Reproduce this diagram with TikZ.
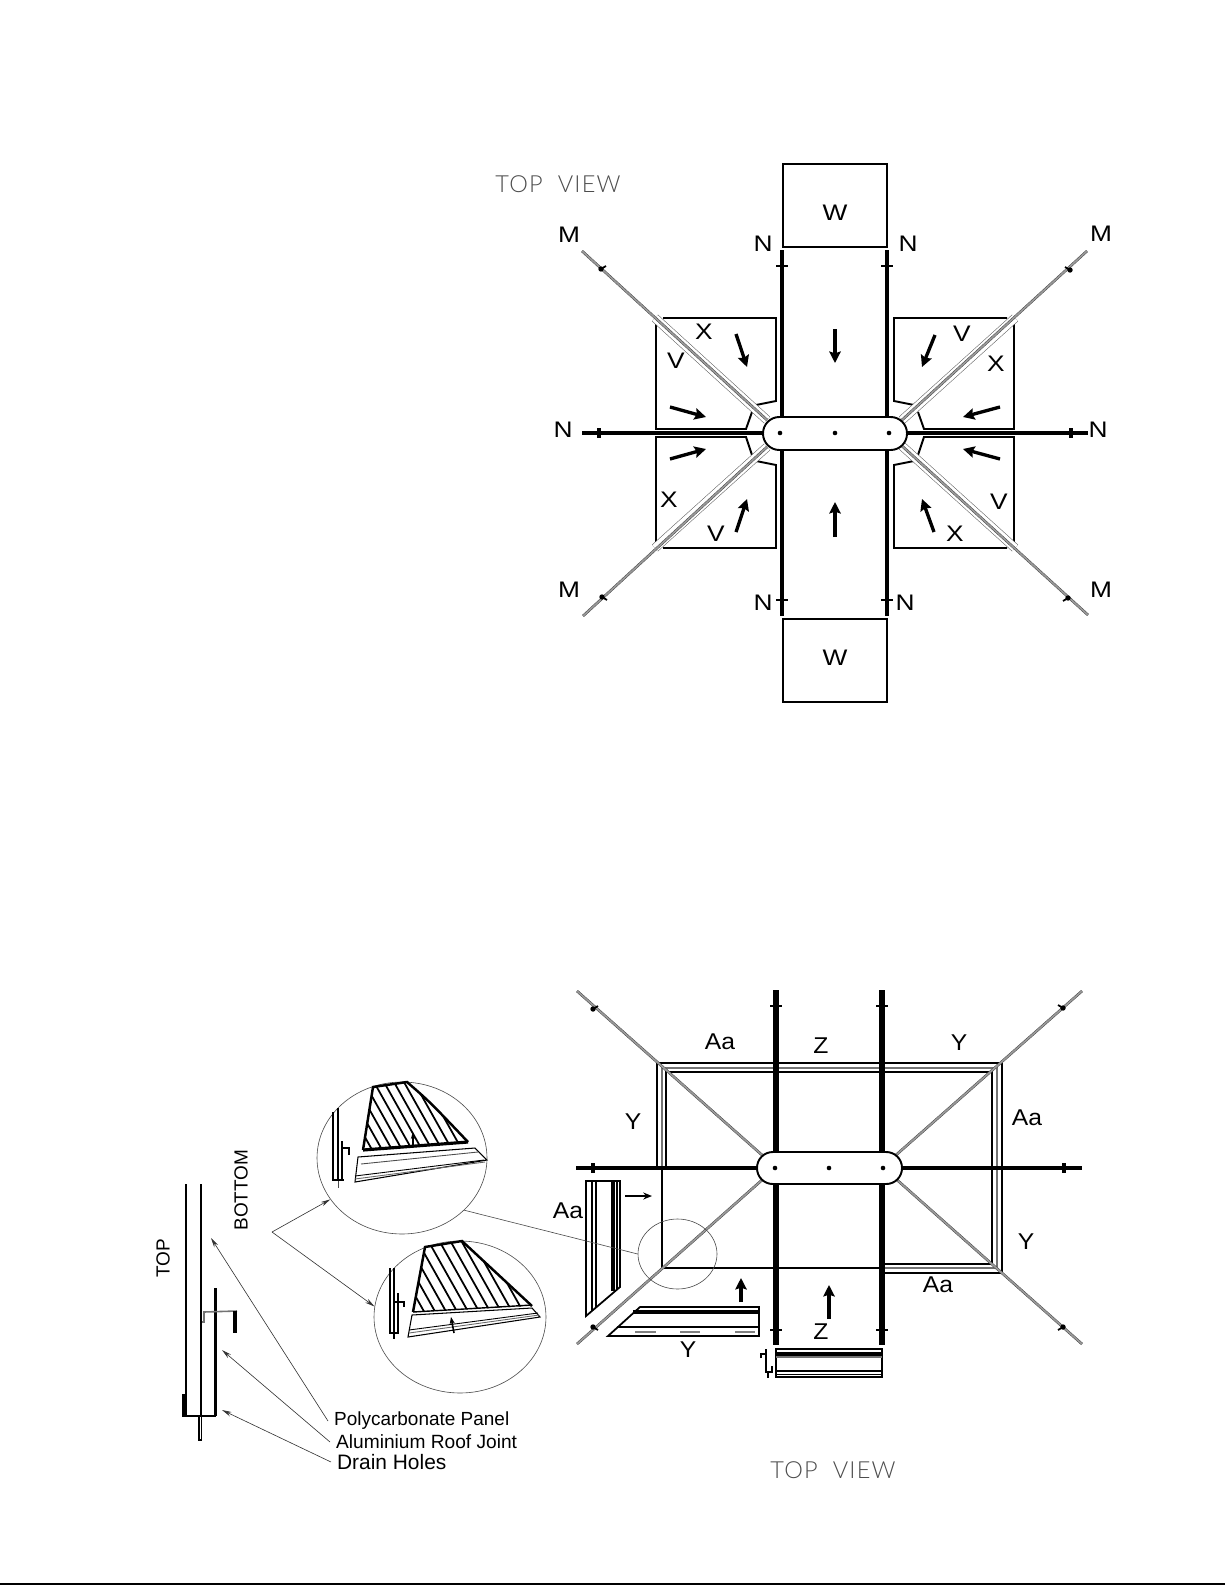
\documentclass[tikz,border=0pt]{standalone}
\usepackage{fontspec}
\setmainfont{Liberation Sans}
\newfontfamily\viewfont[LetterSpace=5]{Lato Light}
\usetikzlibrary{arrows.meta,shapes.geometric}
\tikzset{
  lbl/.style={font=\fontsize{12.8}{13}\selectfont,inner sep=0pt,xscale=1.17},
  biglbl/.style={font=\fontsize{13}{13}\selectfont,inner sep=0pt,xscale=1.08},
  viewlbl/.style={font=\viewfont\fontsize{13.4}{14}\selectfont,text=black!70,inner sep=0pt},
  sidelbl/.style={font=\fontsize{10.8}{11}\selectfont,inner sep=0pt,rotate=90},
  notelbl/.style={inner sep=3.3pt,anchor=west},
  shaft/.style={line width=2.8pt},
  crossbar/.style={line width=2.3pt},
  edgeline/.style={line width=1.1pt},
  frameline/.style={line width=1pt},
  greyline/.style={line width=.9pt,draw=black!55},
  hairline/.style={line width=.35pt,draw=black!70},
  mline/.style={draw=black!75,line width=.25pt,double=black!40,double distance=1pt},
  railline/.style={draw=black!65,line width=.3pt,double=white,double distance=4.5pt},
  flow/.style={line width=1.9pt,-{Stealth[length=6.5pt,width=6.5pt,inset=1pt]}},
  smallflow/.style={line width=1pt,-{Stealth[length=5pt,width=4pt]}},
  leader/.style={line width=.35pt,draw=black!80,-{Stealth[length=5.5pt,width=2.6pt]}},
  lensline/.style={draw,ellipse,line width=.35pt,draw=black!70,inner sep=0pt},
  hatchline/.style={line width=1pt},
  rimline/.style={line width=1.4pt}
}
\begin{document}
\begin{tikzpicture}[x=0.02cm,y=-0.02cm]
  \useasboundingbox (0,0) rectangle (1225,1585);
  \draw[line width=1.2pt] (0,1584) -- (1225,1584);

  \node[viewlbl] (upview) at (558,184) {TOP \ VIEW};
  \draw[edgeline] (783,164) rectangle (887,247);
  \node[lbl] (wup) at (835,213) {W};
  \draw[edgeline] (783,619) rectangle (887,702);
  \node[lbl] (wdown) at (835,658) {W};

  \draw[edgeline] (663,318)--(776,318)--(776,401)--(756,405);
  \draw[edgeline] (656,323)--(656,429)--(746,429)--(752,412);
  \draw[edgeline] (663,548)--(776,548)--(776,465)--(756,461);
  \draw[edgeline] (656,542)--(656,437)--(746,437)--(752,455);
  \draw[edgeline] (1007,318)--(894,318)--(894,401)--(914,405);
  \draw[edgeline] (1014,323)--(1014,429)--(924,429)--(918,412);
  \draw[edgeline] (1007,548)--(894,548)--(894,465)--(914,461);
  \draw[edgeline] (1014,542)--(1014,437)--(924,437)--(918,455);

  \draw[railline] (655,318)--(767,420);
  \draw[railline] (655,548)--(767,447);
  \draw[railline] (1015,318)--(902,420);
  \draw[railline] (1015,548)--(902,446);
  \draw[mline] (582,251)--(767,420);
  \draw[mline] (583,616)--(767,447);
  \draw[mline] (1087,251)--(902,420);
  \draw[mline] (1088,615)--(902,446);
  \fill (601,269) circle (2.7);
  \fill (602,597) circle (2.7);
  \fill (1070,270) circle (2.7);
  \fill (1068,598) circle (2.7);
  \draw[line width=1pt] (601,269)--(606,266);
  \draw[line width=1pt] (602,597)--(607,600);
  \draw[line width=1pt] (1070,270)--(1065,267);
  \draw[line width=1pt] (1068,598)--(1063,601);

  \draw[shaft] (782,250)--(782,420);
  \draw[shaft] (887,250)--(887,420);
  \draw[shaft] (782,447)--(782,616);
  \draw[shaft] (887,447)--(887,616);
  \draw[crossbar] (582,433)--(765,433);
  \draw[crossbar] (905,433)--(1088,433);
  \draw[line width=1.4pt] (776,266)--(788,266);
  \draw[line width=1.4pt] (881,266)--(893,266);
  \draw[line width=1.4pt] (776,600)--(788,600);
  \draw[line width=1.4pt] (881,600)--(893,600);
  \draw[line width=2.6pt] (599,428)--(599,438);
  \draw[line width=2.6pt] (1071,428)--(1071,438);

  \draw[edgeline,fill=white,rounded corners=9.3pt] (763,417) rectangle (907,450);
  \fill (780,433) circle (2.3);
  \fill (835,433) circle (2.3);
  \fill (889,433) circle (2.3);

  \draw[flow] (835,329)--(835,363);
  \draw[flow] (835,537)--(835,502);
  \draw[flow] (736,334)--(747,367);
  \draw[flow] (670,407)--(706,417);
  \draw[flow] (670,459)--(706,449);
  \draw[flow] (736,532)--(747,499);
  \draw[flow] (935,335)--(922,367);
  \draw[flow] (1000,407)--(963,417);
  \draw[flow] (1000,459)--(963,449);
  \draw[flow] (934,532)--(922,499);

  \node[lbl] (nup1) at (763,244) {N};
  \node[lbl] (nup2) at (908,244) {N};
  \node[lbl] (ndown1) at (763,603) {N};
  \node[lbl] (ndown2) at (905,603) {N};
  \node[lbl] (nleft) at (563,430) {N};
  \node[lbl] (nright) at (1098,430) {N};
  \node[lbl] (mul) at (569,235) {M};
  \node[lbl] (mur) at (1101,234) {M};
  \node[lbl] (mdl) at (569,590) {M};
  \node[lbl] (mdr) at (1101,590) {M};
  \node[lbl] (xul) at (704,332) {X};
  \node[lbl] (vul) at (676,361) {V};
  \node[lbl] (xdl) at (669,500) {X};
  \node[lbl] (vdl) at (716,534) {V};
  \node[lbl] (vur) at (962,334) {V};
  \node[lbl] (xur) at (996,364) {X};
  \node[lbl] (vdr) at (999,502) {V};
  \node[lbl] (xdr) at (955,534) {X};

  \draw[frameline] (657,1168)--(657,1063)--(1002,1063)--(1002,1273)--(882,1273);
  \draw[greyline] (662,1168)--(662,1068)--(997,1068)--(997,1268)--(882,1268);
  \draw[frameline] (666,1168)--(666,1072)--(992,1072)--(992,1264)--(882,1264);
  \draw[frameline] (662,1168)--(662,1268)--(882,1268);
  \draw[mline] (577,991)--(762,1155);
  \draw[mline] (1082,991)--(896,1155);
  \draw[mline] (577,1344)--(762,1180);
  \draw[mline] (1082,1344)--(896,1179);
  \fill (593,1009) circle (2.7);
  \fill (1063,1008) circle (2.7);
  \fill (593,1327) circle (2.7);
  \fill (1063,1327) circle (2.7);
  \draw[line width=1pt] (593,1009)--(598,1006);
  \draw[line width=1pt] (1063,1008)--(1058,1005);
  \draw[line width=1pt] (593,1327)--(598,1330);
  \draw[line width=1pt] (1063,1327)--(1058,1330);

  \draw[line width=3.4pt] (776,990)--(776,1152);
  \draw[line width=3.4pt] (776,1184)--(776,1345);
  \draw[line width=2.9pt] (882,990)--(882,1152);
  \draw[line width=2.9pt] (882,1184)--(882,1345);
  \draw[crossbar] (576,1168)--(757,1168);
  \draw[crossbar] (902,1168)--(1082,1168);
  \draw[line width=1.4pt] (770,1006)--(782,1006);
  \draw[line width=1.4pt] (876,1006)--(888,1006);
  \draw[line width=1.4pt] (770,1330)--(782,1330);
  \draw[line width=1.4pt] (876,1330)--(888,1330);
  \draw[line width=2.6pt] (593,1163)--(593,1173);
  \draw[line width=2.6pt] (1064,1163)--(1064,1173);

  \draw[edgeline,fill=white,rounded corners=9pt] (757,1152) rectangle (902,1184);
  \fill (775,1168) circle (2.3);
  \fill (829,1168) circle (2.3);
  \fill (883,1168) circle (2.3);

  \draw[frameline] (586,1316)--(586,1181)--(620,1181)--(620,1287)--cycle;
  \draw[frameline] (592,1181)--(592,1311);
  \draw[line width=1.2pt] (596,1181)--(596,1308);
  \draw[line width=2.2pt] (613,1181)--(613,1291);
  \draw[frameline] (617,1181)--(617,1289);
  \draw[smallflow] (625,1196)--(652,1196);

  \draw[frameline] (640,1307)--(759,1307)--(759,1336)--(608,1336)--cycle;
  \draw[line width=2pt] (633,1312)--(759,1312);
  \draw[line width=1.4pt] (617,1327)--(759,1327);
  \draw[line width=1.3pt,draw=black!50] (635,1332)--(656,1332);
  \draw[line width=1.3pt,draw=black!50] (680,1332)--(700,1332);
  \draw[line width=1.3pt,draw=black!50] (735,1332)--(755,1332);
  \draw[flow] (741,1302)--(741,1278);

  \draw[frameline] (776,1349) rectangle (882,1377);
  \draw[line width=2pt] (776,1354)--(882,1354);
  \draw[greyline] (776,1357)--(882,1357);
  \draw[line width=.8pt] (776,1371)--(882,1371);
  \draw[line width=.5pt] (776,1374)--(882,1374);
  \draw[flow] (829,1319)--(829,1285);
  \draw[line width=.6pt] (761,1358)--(761,1354)--(766,1354);
  \draw[line width=.6pt] (766,1349)--(766,1372)--(772,1372)--(772,1366);
  \draw[line width=.6pt] (768,1372)--(768,1378);

  \node[biglbl] (aatop) at (720,1042) {Aa};
  \node[biglbl] (ztop) at (821,1046) {Z};
  \node[biglbl] (ytop) at (959,1043) {Y};
  \node[biglbl] (yleft) at (633,1122) {Y};
  \node[biglbl] (aaright) at (1027,1118) {Aa};
  \node[biglbl] (yright) at (1026,1242) {Y};
  \node[biglbl] (aadown) at (938,1285) {Aa};
  \node[biglbl] (aaloose) at (568,1211) {Aa};
  \node[biglbl] (yloose) at (688,1350) {Y};
  \node[biglbl] (zdown) at (821,1332) {Z};
  \node[viewlbl] (downview) at (833,1470) {TOP \ VIEW};

  \node[lensline,minimum width=3.4cm,minimum height=3.04cm] (lenstop) at (402,1158) {};
  \node[lensline,minimum width=3.44cm,minimum height=3.04cm] (lensdown) at (460,1317) {};
  \node[lensline,minimum width=1.58cm,minimum height=1.4cm] (spot) at (677.5,1254) {};
  \draw[hairline] (lenstop.-40) -- (spot.180);
  \coordinate (fork) at (272,1232);
  \draw[leader] (fork) -- (lenstop.210);
  \draw[leader] (fork) -- (lensdown.173);

  \begin{scope}
    \clip (373,1087)--(407,1082) .. controls (430,1102) .. (468,1142)--(363,1150)--cycle;
    \draw[hatchline] (310,1075)--(355,1155) (320,1075)--(365,1155) (330,1075)--(375,1155)
      (340,1075)--(385,1155) (350,1075)--(395,1155) (360,1075)--(405,1155) (370,1075)--(415,1155)
      (380,1075)--(425,1155) (390,1075)--(435,1155) (400,1075)--(445,1155) (410,1075)--(455,1155)
      (420,1075)--(465,1155) (430,1075)--(475,1155);
  \end{scope}
  \draw[rimline] (363,1150)--(373,1087)--(407,1082) .. controls (430,1102) .. (468,1142);
  \draw[line width=1.8pt] (363,1150)--(468,1142);
  \draw[line width=.6pt] (358,1157)--(475,1148)--(487,1160)--(355,1182)--cycle;
  \draw[line width=.5pt,draw=black!70] (361,1164)--(478,1152);
  \draw[line width=.5pt] (355,1176)--(484,1160);
  \draw[line width=.5pt,draw=black!60] (355,1179)--(485,1162);
  \draw[line width=.7pt,-{Stealth[length=4pt,width=2.5pt]}] (413,1147)--(413,1132);
  \draw[line width=1.7pt] (333,1112)--(333,1180);
  \draw[line width=1.2pt] (338,1108)--(338,1180);
  \draw[line width=.4pt,draw=black!70] (338,1180)--(338,1188);
  \draw[line width=.6pt] (342,1141)--(342,1180);
  \draw[line width=.6pt] (332,1180)--(344,1180);
  \draw[line width=.6pt] (342,1148)--(349,1148)--(349,1155);

  \begin{scope}
    \clip (425,1247)--(462,1241)--(532,1306)--(413,1312)--cycle;
    \draw[hatchline] (370,1235)--(415,1315) (381,1235)--(426,1315) (392,1235)--(437,1315)
      (403,1235)--(448,1315) (414,1235)--(459,1315) (425,1235)--(470,1315) (436,1235)--(481,1315)
      (447,1235)--(492,1315) (458,1235)--(503,1315) (469,1235)--(514,1315) (480,1235)--(525,1315);
  \end{scope}
  \draw[rimline] (413,1312)--(425,1247)--(462,1241)--(532,1306);
  \draw[line width=.8pt] (413,1312)--(532,1305);
  \draw[line width=.6pt] (412,1315)--(532,1308)--(540,1317)--(408,1337)--cycle;
  \draw[line width=.5pt] (409,1330)--(538,1313);
  \draw[line width=.5pt,draw=black!60] (409,1333)--(539,1315);
  \draw[line width=.9pt,-{Stealth[length=4pt,width=3pt]}] (454,1333)--(451,1317);
  \draw[line width=1.6pt] (390,1268)--(390,1333);
  \draw[line width=1.2pt] (394,1268)--(394,1339);
  \draw[line width=.6pt] (398,1293)--(398,1333);
  \draw[line width=.6pt] (389,1333)--(399,1333);
  \draw[line width=.6pt] (395,1302)--(404,1302)--(404,1307);

  \draw[line width=.7pt] (186,1184)--(186,1416);
  \draw[line width=.8pt] (201,1184)--(201,1416);
  \draw[line width=.7pt] (216,1288)--(216,1416);
  \draw[line width=.5pt] (214,1288)--(214,1416);
  \draw[line width=.5pt] (214,1288)--(216,1288);
  \draw[line width=1.2pt] (182,1416)--(216,1416);
  \draw[line width=2.2pt] (183.5,1394)--(183.5,1416);
  \draw[line width=.6pt] (199,1416)--(199,1440)--(201.5,1440)--(201.5,1416);
  \draw[greyline] (202,1322)--(204,1322)--(204,1312)--(237,1311);
  \draw[line width=2pt] (235,1311)--(235,1333);

  \node[sidelbl] (toplbl) at (163,1258) {TOP};
  \node[sidelbl] (bottomlbl) at (241,1190) {BOTTOM};
  \node[notelbl,font=\fontsize{10.8}{11}\selectfont] (panel) at (328,1421) {Polycarbonate Panel};
  \node[notelbl,font=\fontsize{10.9}{11}\selectfont] (joint) at (330,1442) {Aluminium Roof Joint};
  \node[notelbl,font=\fontsize{11.9}{12}\selectfont] (drain) at (331,1462) {Drain Holes};
  \coordinate (paneltip) at (211,1238);
  \coordinate (jointtip) at (222,1350);
  \coordinate (draintip) at (222,1410);
  \draw[leader] (panel.west) -- (paneltip);
  \draw[leader] (joint.west) -- (jointtip);
  \draw[leader] (drain.west) -- (draintip);
\end{tikzpicture}
\end{document}
